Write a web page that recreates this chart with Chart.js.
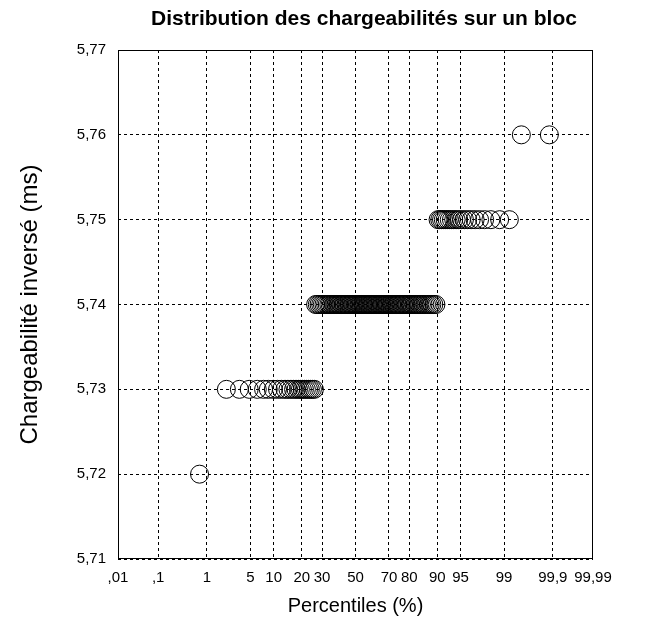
<!DOCTYPE html>
<html>
<head>
  <meta charset="UTF-8">
  <title>Distribution des chargeabilités</title>
  <script src="https://cdn.jsdelivr.net/npm/chart.js@4.4.1/dist/chart.umd.min.js"></script>
  <style>
    body { margin: 0; background: #fff; }
    canvas { display: block; }
  </style>
</head>
<body>
<canvas id="chart" width="651" height="634"></canvas>
<script>
// chargeability levels (ms) and the percentile (%) of each sample at that level
const levels = [5.72, 5.73, 5.74, 5.75, 5.76];
const pct572 = [0.73];
const pct573 = [2.16, 3.45, 4.8, 6.2, 7.5, 8.6, 9.9, 11.1, 12.3, 13.5, 14.5, 15.6, 16.6, 17.6,
  18.6, 19.4, 20.3, 21.2, 22.1, 23.1, 24.0, 25.0, 26.0];
const pct574 = [26.6, 27.5, 28.4, 29.3, 30.2, 31.1, 32.0, 32.9, 33.8, 34.6, 35.5, 36.4, 37.2, 38.1,
  38.9, 39.8, 40.6, 41.5, 42.3, 43.1, 44.0, 44.8, 45.6, 46.4, 47.2, 48.0, 48.8, 49.6, 50.4, 51.2,
  52.0, 52.8, 53.6, 54.4, 55.1, 55.9, 56.7, 57.5, 58.2, 59.0, 59.7, 60.5, 61.2, 62.0, 62.7, 63.5,
  64.2, 64.9, 65.7, 66.4, 67.1, 67.8, 68.5, 69.2, 69.9, 70.6, 71.3, 72.0, 72.7, 73.4, 74.1, 74.7,
  75.4, 76.1, 76.7, 77.4, 78.0, 78.7, 79.3, 80.0, 80.6, 81.2, 81.9, 82.5, 83.1, 83.7, 84.3, 84.9,
  85.5, 86.1, 86.7, 87.3, 87.9, 88.4, 89.0, 89.6];
const pct575 = [90.2, 90.65, 91.1, 91.55, 92.0, 92.45, 92.9, 93.35, 93.8, 94.25, 94.7, 95.15, 95.6,
  96.05, 96.5, 96.95, 97.4, 97.84, 98.3, 98.8, 99.2];
const pct576 = [99.53, 99.88];

// probability axis ticks
const tickPercents = [0.01, 0.1, 1, 5, 10, 20, 30, 50, 70, 80, 90, 95, 99, 99.9, 99.99];
const tickLabels = [',01', ',1', '1', '5', '10', '20', '30', '50', '70', '80', '90', '95', '99', '99,9', '99,99'];
const yTicks = [5.71, 5.72, 5.73, 5.74, 5.75, 5.76, 5.77];

// inverse normal CDF (Acklam), turns a probability into its z position
function probit(p) {
  const a = [-3.969683028665376e+01, 2.209460984245205e+02, -2.759285104469687e+02,
    1.383577518672690e+02, -3.066479806614716e+01, 2.506628277459239e+00];
  const b = [-5.447609879822406e+01, 1.615858368580409e+02, -1.556989798598866e+02,
    6.680131188771972e+01, -1.328068155288572e+01];
  const c = [-7.784894002430293e-03, -3.223964580411365e-01, -2.400758277161838e+00,
    -2.549732539343734e+00, 4.374664141464968e+00, 2.938163982698783e+00];
  const d = [7.784695709041462e-03, 3.224671290700398e-01, 2.445134137142996e+00,
    3.754408661907416e+00];
  const pLow = 0.02425;
  let q, r;
  if (p < pLow) {
    q = Math.sqrt(-2 * Math.log(p));
    return (((((c[0]*q+c[1])*q+c[2])*q+c[3])*q+c[4])*q+c[5]) / ((((d[0]*q+d[1])*q+d[2])*q+d[3])*q+1);
  }
  if (p <= 1 - pLow) {
    q = p - 0.5; r = q * q;
    return (((((a[0]*r+a[1])*r+a[2])*r+a[3])*r+a[4])*r+a[5])*q / (((((b[0]*r+b[1])*r+b[2])*r+b[3])*r+b[4])*r+1);
  }
  q = Math.sqrt(-2 * Math.log(1 - p));
  return -(((((c[0]*q+c[1])*q+c[2])*q+c[3])*q+c[4])*q+c[5]) / ((((d[0]*q+d[1])*q+d[2])*q+d[3])*q+1);
}

const groups = [pct572, pct573, pct574, pct575, pct576];
const points = [];
groups.forEach((list, i) => {
  list.forEach(pc => points.push({ x: probit(pc / 100), y: levels[i] }));
});

const FONT = '"Liberation Sans", Arial, sans-serif';
Chart.defaults.font.family = FONT;
Chart.defaults.color = '#000';

// black frame round the plot and the chart title
const framePlugin = {
  id: 'frame',
  afterDatasetsDraw(chart) {
    const { ctx, chartArea: a } = chart;
    ctx.save();
    ctx.strokeStyle = '#000';
    ctx.lineWidth = 1;
    ctx.strokeRect(Math.round(a.left) + 0.5, Math.round(a.top) + 0.5,
      Math.round(a.right - a.left) - 1, Math.round(a.bottom - a.top) - 1);
    ctx.restore();
  },
  afterDraw(chart) {
    const ctx = chart.ctx;
    ctx.save();
    ctx.fillStyle = '#000';
    ctx.font = 'bold 21px ' + FONT;
    ctx.textAlign = 'center';
    ctx.textBaseline = 'middle';
    ctx.fillText('Distribution des chargeabilités sur un bloc', 364, 19);
    ctx.restore();
  }
};

const gridStyle = {
  color: '#000',
  lineWidth: 1,
  drawTicks: false
};

new Chart(document.getElementById('chart'), {
  type: 'scatter',
  data: {
    datasets: [{
      data: points,
      pointStyle: 'circle',
      pointRadius: 9,
      pointHoverRadius: 9,
      borderColor: '#000',
      borderWidth: 1,
      backgroundColor: 'rgba(0,0,0,0)'
    }]
  },
  options: {
    responsive: false,
    animation: false,
    events: [],
    layout: { padding: { left: 0, right: 58, top: 50, bottom: 0 } },
    plugins: { legend: { display: false }, tooltip: { enabled: false } },
    scales: {
      x: {
        type: 'linear',
        min: probit(0.0001),
        max: probit(0.9999),
        afterBuildTicks: s => { s.ticks = tickPercents.map(v => ({ value: probit(v / 100) })); },
        afterFit: s => { s.height = 75; },
        grid: gridStyle,
        border: { display: false, dash: [3, 3] },
        ticks: {
          autoSkip: false,
          maxRotation: 0,
          padding: 10,
          font: { size: 15 },
          callback: (v, i) => tickLabels[i]
        },
        title: {
          display: true,
          text: 'Percentiles (%)',
          font: { size: 20 },
          padding: { top: 0, bottom: 16 }
        }
      },
      y: {
        type: 'linear',
        min: 5.71,
        max: 5.77,
        afterBuildTicks: s => { s.ticks = yTicks.map(v => ({ value: v })); },
        afterFit: s => { s.width = 118; },
        grid: gridStyle,
        border: { display: false, dash: [3, 3] },
        ticks: {
          padding: 12,
          font: { size: 15 },
          callback: v => v.toFixed(2).replace('.', ',')
        },
        title: {
          display: true,
          text: 'Chargeabilité inversé (ms)',
          font: { size: 24 },
          padding: { top: 16, bottom: 0 }
        }
      }
    }
  },
  plugins: [framePlugin]
});
</script>
</body>
</html>
